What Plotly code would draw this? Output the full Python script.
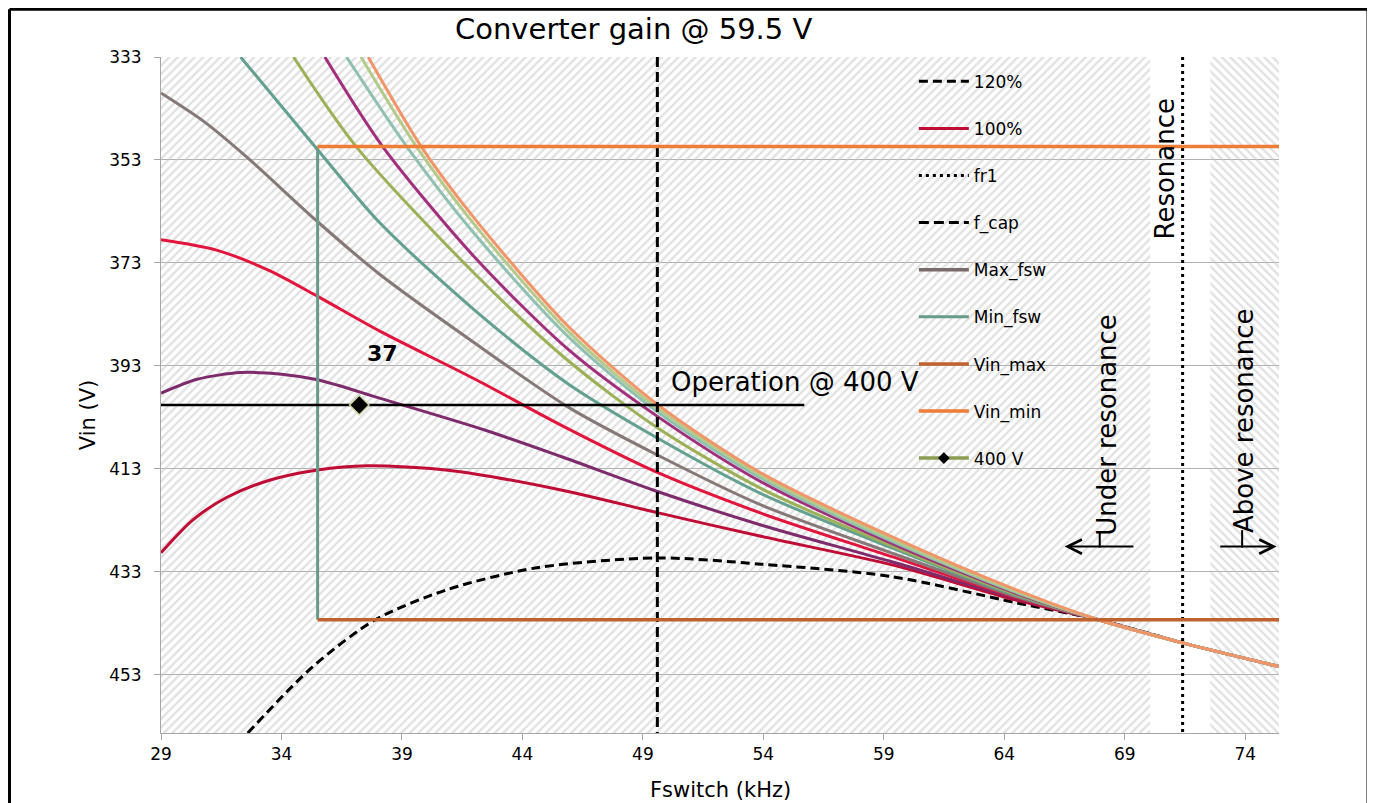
import plotly.graph_objects as go

# ---------------- data ----------------
# axis
y_top, y_bot = 333, 464.3
x_lo, x_hi = 29, 75.4
x_ticks = [29, 34, 39, 44, 49, 54, 59, 64, 69, 74]
y_ticks = [333, 353, 373, 393, 413, 433, 453]

# regions (under / above resonance)
under_end = 70.05
above_start = 72.55

# vertical markers (kHz)
f_cap = 49.6
fr1 = 71.4

# operating limits
vin_min = 350.4
vin_max = 442.3
min_fsw = 35.5

# operation point @ 400 V
op_v = 400.6
op_f_end = 55.7
op_point_f = 37.23

# gain curves (frequency kHz, Vin V)
f_120 = [32.6, 35.3, 37.9, 40.85, 44.6, 49.6, 53.9, 59.3, 64.5, 67.9, 71.4]
v_120 = [464.3, 451.4, 442.3, 436.5, 432.2, 430.3, 431.5, 433.9, 439.0, 442.3, 446.8]

f_100 = [29, 30.3, 31.7, 33.5, 35.5, 37.55, 41.0, 45.6, 49.6, 53.9, 59.3, 64.5, 67.9]
v_100 = [429.3, 423.0, 418.6, 415.2, 413.2, 412.4, 413.3, 417.1, 421.5, 426.1, 431.6, 438.5, 442.3]

f_c3 = [29, 30.5, 32.3, 34.0, 35.5, 38.1, 42.4, 45.6, 49.6, 53.9, 59.3, 64.5, 67.9]
v_c3 = [398.3, 395.6, 394.3, 394.6, 395.7, 399.3, 405.4, 410.6, 417.4, 423.9, 431.0, 438.2, 442.3]

f_c4 = [29, 31.3, 33.5, 35.5, 38.1, 42.0, 45.6, 49.6, 53.9, 59.3, 64.5, 67.9]
v_c4 = [368.5, 370.5, 374.5, 379.5, 386.3, 395.5, 404.5, 413.7, 421.6, 430.0, 438.0, 442.3]

f_c5 = [29, 30.8, 32.55, 35.5, 38.1, 42.0, 45.9, 49.6, 53.9, 59.3, 64.5, 67.9]
v_c5 = [340.0, 345.6, 352.4, 365.0, 375.3, 388.5, 401.0, 410.3, 420.0, 429.3, 437.8, 442.3]

f_c6 = [32.3, 35.5, 38.1, 42.0, 45.9, 49.6, 53.9, 59.3, 64.5, 67.9]
v_c6 = [333, 351.0, 365.3, 382.1, 396.5, 407.0, 417.8, 428.3, 437.6, 442.3]

f_c7 = [34.5, 37.1, 42.0, 45.9, 49.6, 53.9, 59.3, 64.5, 67.9]
v_c7 = [333, 350.4, 375.0, 392.0, 405.0, 416.8, 427.9, 437.4, 442.3]

f_c8 = [35.8, 38.2, 42.0, 45.9, 49.6, 53.9, 59.3, 64.5, 67.9]
v_c8 = [333, 350.4, 371.8, 389.8, 402.8, 415.5, 427.4, 437.2, 442.3]

f_c9 = [36.7, 39.2, 42.0, 45.9, 49.6, 53.9, 59.3, 64.5, 67.9]
v_c9 = [333, 350.4, 367.3, 387.3, 401.9, 414.8, 427.0, 437.0, 442.3]

f_c10 = [37.3, 39.6, 42.0, 45.9, 49.6, 53.9, 59.3, 64.5, 67.9]
v_c10 = [333, 350.4, 365.5, 386.3, 401.2, 414.3, 426.6, 436.8, 442.3]

f_c11 = [37.6, 39.8, 42.0, 45.9, 49.6, 53.9, 59.3, 64.5, 67.9, 71.4, 75.4]
v_c11 = [333, 350.4, 364.3, 385.3, 400.5, 413.8, 426.1, 436.5, 442.3, 446.8, 451.4]

# common tail after convergence
f_tail = [71.4, 75.4]
v_tail = [446.8, 451.4]

FONT = "DejaVu Sans"

fig = go.Figure()

# hatched background
hatch = dict(size=6, solidity=0.4, fgcolor="#c3c3c3", bgcolor="rgba(0,0,0,0)")
fig.add_trace(go.Scatter(
    x=[x_lo, under_end, under_end, x_lo, x_lo], y=[y_top, y_top, y_bot, y_bot, y_top],
    fill="toself", fillcolor="rgba(0,0,0,0)", fillpattern=dict(shape="/", **hatch),
    mode="lines", line=dict(width=0), showlegend=False, hoverinfo="skip"))
fig.add_trace(go.Scatter(
    x=[above_start, x_hi, x_hi, above_start, above_start], y=[y_top, y_top, y_bot, y_bot, y_top],
    fill="toself", fillcolor="rgba(0,0,0,0)", fillpattern=dict(shape="\\", **hatch),
    mode="lines", line=dict(width=0), showlegend=False, hoverinfo="skip"))

# labelled load curves (drawn first so the lighter-load curves lie on top)
fig.add_trace(go.Scatter(x=f_120, y=v_120, name="120%", legendgroup="a", legendrank=1, mode="lines",
                         line=dict(color="black", width=3, dash="9px,5px", shape="spline", smoothing=0.8)))
fig.add_trace(go.Scatter(x=f_100 + f_tail, y=v_100 + v_tail, name="100%", legendgroup="b", legendrank=2, mode="lines",
                         line=dict(color="#c00d35", width=3, shape="spline", smoothing=0.8)))

# unlabeled gain curves
curves = [
    (f_c3, v_c3, "#7e2b6c"),
    (f_c4, v_c4, "#e2153d"),
    (f_c5, v_c5, "#877878"),
    (f_c6, v_c6, "#64a08f"),
    (f_c7, v_c7, "#9bb057"),
    (f_c8, v_c8, "#a12f7b"),
    (f_c9, v_c9, "#8fc0b2"),
    (f_c10, v_c10, "#b4ca8a"),
    (f_c11, v_c11, "#f19569"),
]
for f, v, c in curves:
    fx, vy = list(f), list(v)
    if fx[-1] < f_tail[0]:
        fx += f_tail
        vy += v_tail
    fig.add_trace(go.Scatter(x=fx, y=vy, mode="lines", line=dict(color=c, width=3, shape="spline", smoothing=0.8),
                             showlegend=False))

fig.add_trace(go.Scatter(x=[fr1, fr1], y=[y_top, y_bot], name="fr1", legendgroup="c", legendrank=3, mode="lines",
                         line=dict(color="black", width=3, dash="3px,4px")))
fig.add_trace(go.Scatter(x=[f_cap, f_cap], y=[y_top, y_bot], name="f_cap", legendgroup="d", legendrank=4, mode="lines",
                         line=dict(color="black", width=3, dash="10px,5px")))
fig.add_trace(go.Scatter(x=[None], y=[None], name="Max_fsw", legendgroup="e", legendrank=5, mode="lines",
                         line=dict(color="#7a6b6b", width=3.5)))
fig.add_trace(go.Scatter(x=[min_fsw, min_fsw], y=[vin_min, vin_max], name="Min_fsw", legendgroup="f", legendrank=6,
                         mode="lines", line=dict(color="#689a8a", width=3)))
fig.add_trace(go.Scatter(x=[min_fsw, x_hi], y=[vin_max, vin_max], name="Vin_max", legendgroup="g", legendrank=7,
                         mode="lines", line=dict(color="#c0622e", width=3.5)))
fig.add_trace(go.Scatter(x=[min_fsw, x_hi], y=[vin_min, vin_min], name="Vin_min", legendgroup="h", legendrank=8,
                         mode="lines", line=dict(color="#ee7d36", width=3.5)))
fig.add_trace(go.Scatter(x=[x_lo, op_f_end], y=[op_v, op_v], mode="lines", line=dict(color="black", width=2.5),
                         showlegend=False))
fig.add_trace(go.Scatter(x=[op_point_f], y=[op_v], name="400 V", mode="markers", showlegend=False,
                         marker=dict(symbol="diamond", size=15, color="black", line=dict(color="#c9d39c", width=1.5))))
# legend entry for the 400 V series (small marker like the original legend)
fig.add_trace(go.Scatter(x=[None], y=[None], name="400 V", legendgroup="i", legendrank=9, mode="lines+markers",
                         line=dict(color="#8c9c50", width=3.5),
                         marker=dict(symbol="diamond", size=9, color="black")))

ann_font = dict(family=FONT, size=26, color="black")


def note(text, x, y, **kw):
    d = dict(text=text, x=x, y=y, xanchor="center", yanchor="middle", showarrow=False, font=ann_font)
    d.update(kw)
    return d


annotations = [
    note("Converter gain @ 59.5 V", 0.423, 1.042, xref="paper", yref="paper",
         font=dict(family=FONT, size=29, color="black")),
    note("Vin (V)", -0.0653, 0.47, xref="paper", yref="paper", textangle=-90,
         font=dict(family=FONT, size=21, color="black")),
    note("Fswitch (kHz)", 0.5, -0.0843, xref="paper", yref="paper",
         font=dict(family=FONT, size=21, color="black")),
    note("Operation @ 400 V", 50.08, 396.1, xanchor="left"),
    note("<b>37</b>", op_point_f, op_v, xshift=23, yshift=52, font=dict(family=FONT, size=22, color="black")),
    note("Resonance", 70.66, 354.7, textangle=-90),
    note("Under resonance", 68.25, 404.5, textangle=-90),
    note("Above resonance", 73.95, 403.7, textangle=-90),
    dict(text="", x=66.5, y=428.1, ax=69.42, ay=428.1, axref="x", ayref="y", showarrow=True,
         arrowhead=5, arrowsize=1.4, arrowwidth=2, arrowcolor="black"),
    dict(text="", x=75.3, y=428.1, ax=72.9, ay=428.1, axref="x", ayref="y", showarrow=True,
         arrowhead=5, arrowsize=1.4, arrowwidth=2, arrowcolor="black"),
]

shapes = [
    dict(type="line", x0=67.96, x1=67.96, y0=425.3, y1=428.3, line=dict(color="black", width=2)),
    dict(type="line", x0=73.87, x1=73.87, y0=424.9, y1=428.3, line=dict(color="black", width=2)),
    # outer frame of the picture
    dict(type="line", xref="paper", yref="paper", x0=-0.1355, x1=1.0796, y0=1.0705, y1=1.0705,
         line=dict(color="black", width=3)),
    dict(type="line", xref="paper", yref="paper", x0=-0.1355, x1=-0.1355, y0=-0.12, y1=1.0705,
         line=dict(color="black", width=3)),
    dict(type="line", xref="paper", yref="paper", x0=1.0796, x1=1.0796, y0=-0.12, y1=1.0705,
         line=dict(color="black", width=3)),
]

# page body has an 8px margin, so the figure is shrunk by that amount
fig.update_layout(
    width=1367, height=795,
    margin=dict(l=153, r=96, t=49, b=70),
    plot_bgcolor="white", paper_bgcolor="white",
    font=dict(family=FONT, size=17, color="black"),
    showlegend=True,
    legend=dict(x=0.6734, y=0.99, xanchor="left", yanchor="top", bgcolor="rgba(0,0,0,0)",
                font=dict(family=FONT, size=17), traceorder="grouped", tracegroupgap=22, itemwidth=50),
    annotations=annotations,
    shapes=shapes,
)
fig.update_xaxes(range=[x_lo, x_hi], tickmode="array", tickvals=x_ticks, showgrid=False, zeroline=False,
                 showline=True, linecolor="#a6a6a6", linewidth=1, ticks="outside", ticklen=6, tickcolor="#a6a6a6",
                 tickfont=dict(family=FONT, size=17))
fig.update_yaxes(range=[y_bot, y_top], tickmode="array", tickvals=y_ticks, showgrid=True, gridcolor="#b0b0b0",
                 gridwidth=1, zeroline=False, showline=True, linecolor="#a6a6a6", linewidth=1,
                 ticks="outside", ticklen=6, tickcolor="#a6a6a6", ticklabelstandoff=9,
                 tickfont=dict(family=FONT, size=17))

fig.write_html("out.html")
